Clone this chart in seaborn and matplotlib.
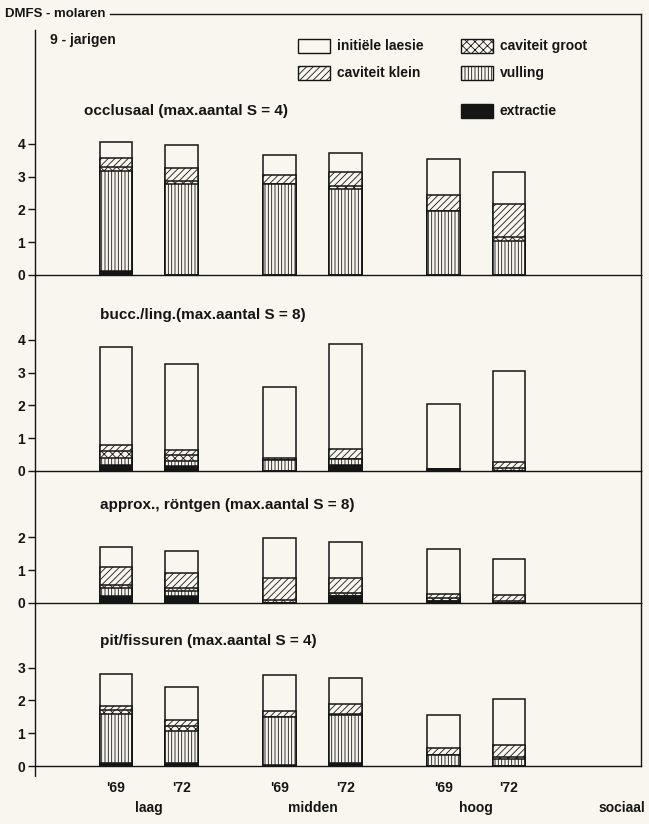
import numpy as np
import pandas as pd
import seaborn as sns
import matplotlib
matplotlib.use("Agg")
import matplotlib.pyplot as plt
from matplotlib.patches import Rectangle
from matplotlib.lines import Line2D

# ---------------- data ----------------
years = ["'69", "'72", "'69", "'72", "'69", "'72"]
groups = ["laag", "midden", "hoog"]
axis_label = "sociaal"
segments = ["extractie", "vulling", "caviteit groot", "caviteit klein", "initiële laesie"]

titles = ["occlusaal (max.aantal S = 4)",
          "bucc./ling.(max.aantal S = 8)",
          "approx., röntgen (max.aantal S = 8)",
          "pit/fissuren (max.aantal S = 4)"]

occl_ext   = [0.11, 0.00, 0.00, 0.00, 0.00, 0.00]
occl_vul   = [3.05, 2.76, 2.76, 2.62, 1.95, 1.04]
occl_groot = [0.12, 0.12, 0.00, 0.08, 0.00, 0.12]
occl_klein = [0.30, 0.39, 0.30, 0.44, 0.50, 0.99]
occl_init  = [0.47, 0.68, 0.60, 0.59, 1.10, 0.99]

bucc_ext   = [0.18, 0.16, 0.00, 0.18, 0.05, 0.00]
bucc_vul   = [0.21, 0.13, 0.33, 0.18, 0.00, 0.00]
bucc_groot = [0.23, 0.20, 0.00, 0.00, 0.00, 0.10]
bucc_klein = [0.18, 0.16, 0.07, 0.30, 0.00, 0.17]
bucc_init  = [2.99, 2.61, 2.16, 3.21, 1.98, 2.77]

appr_ext   = [0.20, 0.20, 0.00, 0.20, 0.06, 0.00]
appr_vul   = [0.25, 0.17, 0.00, 0.00, 0.00, 0.00]
appr_groot = [0.10, 0.08, 0.08, 0.10, 0.08, 0.05]
appr_klein = [0.56, 0.46, 0.69, 0.47, 0.12, 0.20]
appr_init  = [0.59, 0.69, 1.21, 1.09, 1.39, 1.09]

pit_ext    = [0.08, 0.08, 0.03, 0.08, 0.00, 0.00]
pit_vul    = [1.51, 1.00, 1.46, 1.47, 0.34, 0.22]
pit_groot  = [0.13, 0.14, 0.00, 0.05, 0.00, 0.06]
pit_klein  = [0.11, 0.19, 0.20, 0.29, 0.20, 0.36]
pit_init   = [0.98, 0.99, 1.09, 0.79, 1.00, 1.40]

panels = [
    [occl_ext, occl_vul, occl_groot, occl_klein, occl_init],
    [bucc_ext, bucc_vul, bucc_groot, bucc_klein, bucc_init],
    [appr_ext, appr_vul, appr_groot, appr_klein, appr_init],
    [pit_ext, pit_vul, pit_groot, pit_klein, pit_init],
]
yticks_per_panel = [[0, 1, 2, 3, 4], [0, 1, 2, 3, 4], [0, 1, 2], [0, 1, 2, 3]]

# ---------------- layout / style ----------------
positions = [0, 1, 2.5, 3.5, 5, 6]
W, H = 649, 824
BG = "#f8f6ee"
INK = "#151515"
X_L, X_R = 35, 641
PX_X = 65.5          # px per x unit
PX_Y = 32.8          # px per y unit
first_center_px = 116
xmin = -(first_center_px - X_L) / PX_X
xmax = (X_R - first_center_px) / PX_X
panel_px = [(14, 275), (275, 471), (471, 603), (603, 766)]

seg_style = {
    "extractie":       dict(color=INK, hatch=None),
    "vulling":         dict(color=BG, hatch="|||||"),
    "caviteit groot":  dict(color=BG, hatch="xxxx"),
    "caviteit klein":  dict(color=BG, hatch="/////"),
    "initiële laesie": dict(color=BG, hatch=None),
}

sns.set_theme(style="white")
plt.rcParams["font.family"] = ["Liberation Sans", "DejaVu Sans"]
plt.rcParams["font.weight"] = "bold"
plt.rcParams["hatch.linewidth"] = 0.6
plt.rcParams["hatch.color"] = INK
plt.rcParams["text.color"] = INK

fig = plt.figure(figsize=(W / 100, H / 100), dpi=100, facecolor=BG)


def fx(px):
    return px / W


def fy(py):
    return 1 - py / H


axes = []
for i, (top, bot) in enumerate(panel_px):
    ax = fig.add_axes([fx(X_L), fy(bot), fx(X_R) - fx(X_L), (bot - top) / H])
    ax.set_facecolor("none")
    data = panels[i]
    cum = np.cumsum(np.array(data), axis=0)
    # draw from top segment down so lower segments overlay the upper ones
    for k in range(len(segments) - 1, -1, -1):
        st = seg_style[segments[k]]
        df = pd.DataFrame({"pos": positions, "val": cum[k]})
        kw = dict(edgecolor=INK, linewidth=1.1)
        if st["hatch"]:
            kw["hatch"] = st["hatch"]
        sns.barplot(data=df, x="pos", y="val", native_scale=True, width=0.5,
                    color=st["color"], saturation=1, errorbar=None, ax=ax, **kw)
    ax.set_xlim(xmin, xmax)
    ax.set_ylim(0, (bot - top) / PX_Y)
    ax.set_xlabel("")
    ax.set_ylabel("")
    ax.set_yticks(yticks_per_panel[i])
    ax.tick_params(axis="y", left=True, direction="out", length=5, width=1.0,
                   colors=INK, labelsize=10, pad=2)
    for sp in ax.spines.values():
        sp.set_color(INK)
        sp.set_linewidth(1.0)
        sp.set_zorder(5)
    if i == 0:
        ax.spines["top"].set_bounds(xmin + (110 - X_L) / PX_X, xmax)
        ax.spines["left"].set_bounds(0, (bot - 30) / PX_Y)
    else:
        ax.spines["top"].set_visible(False)
    if i < 3:
        ax.set_xticks([])
    else:
        ax.set_xticks(positions)
        ax.set_xticklabels(years)
        ax.tick_params(axis="x", bottom=False, length=0, pad=11, labelsize=10, colors=INK)
    axes.append(ax)

# left axis line continues a little below the last panel
fig.add_artist(Line2D([fx(X_L), fx(X_L)], [fy(766), fy(776)], color=INK, lw=1.0,
                      transform=fig.transFigure))

# group labels
ax4 = axes[-1]
for g, name in enumerate(groups):
    xc = np.mean(positions[2 * g:2 * g + 2])
    ax4.annotate(name, xy=(xc, 0), xycoords=("data", "axes fraction"),
                 xytext=(0, -42), textcoords="offset pixels",
                 ha="center", va="center", fontsize=10)
ax4.annotate(axis_label, xy=(7.73, 0), xycoords=("data", "axes fraction"),
             xytext=(0, -42), textcoords="offset pixels",
             ha="center", va="center", fontsize=10)

# texts
fig.text(fx(5), fy(14), "DMFS - molaren", ha="left", va="center", fontsize=9.5)
fig.text(fx(50), fy(40), "9 - jarigen", ha="left", va="center", fontsize=10)
title_px = [(84, 111), (100, 315), (100, 505), (100, 641)]
for t, (tx, ty) in zip(titles, title_px):
    fig.text(fx(tx), fy(ty), t, ha="left", va="center", fontsize=11)

# legend (manual, in figure pixels)
leg_items = [
    ("initiële laesie", 298, 46),
    ("caviteit klein", 298, 73),
    ("caviteit groot", 461, 46),
    ("vulling", 461, 73),
    ("extractie", 461, 111),
]
bw, bh = 32, 14
for name, lx, ly in leg_items:
    st = seg_style[name]
    rect = Rectangle((fx(lx), fy(ly + bh / 2)), bw / W, bh / H, transform=fig.transFigure,
                     facecolor=st["color"], edgecolor=INK, lw=1.0,
                     hatch=st["hatch"])
    fig.add_artist(rect)
    fig.text(fx(lx + bw + 7), fy(ly), name, ha="left", va="center", fontsize=10)

fig.savefig("out.png", dpi=100, facecolor=BG)
